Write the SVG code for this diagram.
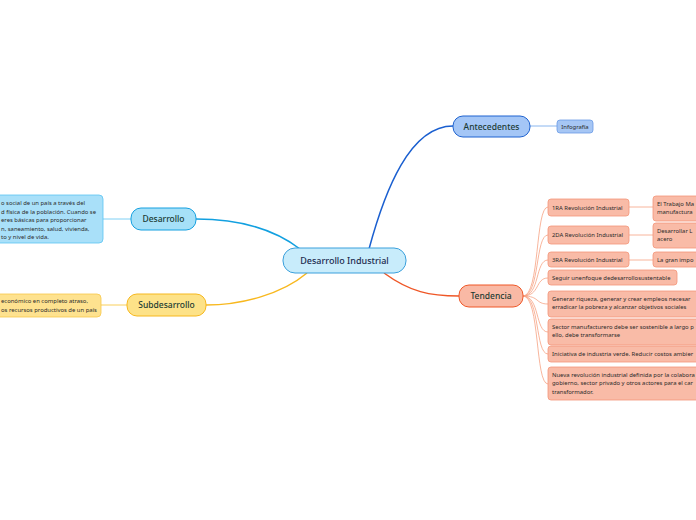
<svg xmlns="http://www.w3.org/2000/svg" width="696" height="520" viewBox="0 0 696 520">
<style>
text{font-family:"Noto Sans","Open Sans",sans-serif;}
.main{font-size:8.5px;font-weight:500;fill:#1b3a32;text-anchor:middle;}
.small{font-size:5.9px;fill:#2a2a2a;}
.tc{fill:#f9bba7;stroke:#f4967a;stroke-width:0.8;}
.tl{fill:none;stroke:#f6a283;stroke-width:0.8;}
</style>
<rect width="696" height="520" fill="#ffffff"/>
<g id="connectors" fill="none">
  <path d="M369,249 C385,190 410,126 453,126" stroke="#1a5fd0" stroke-width="1.5"/>
  <path d="M530,126 L557,126" stroke="#8ab6ee" stroke-width="1"/>
  <path d="M384,273 C410,292 430,296 459,296" stroke="#ef5727" stroke-width="1.5"/>
  <path d="M300,249 C270,226 232,219 196,219" stroke="#12a0e0" stroke-width="1.5"/>
  <path d="M103,219 L131,219" stroke="#7fd0f5" stroke-width="1"/>
  <path d="M307,273 C282,294 242,305 206,305" stroke="#f8b81e" stroke-width="1.5"/>
  <path d="M101,305 L127,305" stroke="#f9cf5a" stroke-width="1"/>
  <g class="tl">
    <path d="M523,296 C540,296 535,207 548,207"/>
    <path d="M523,296 C540,296 535,235 548,235"/>
    <path d="M523,296 C540,296 535,260 548,260"/>
    <path d="M523,296 C540,296 535,278 548,278"/>
    <path d="M523,296 C540,296 535,304 548,304"/>
    <path d="M523,296 C540,296 535,332 548,332"/>
    <path d="M523,296 C540,296 535,354 548,354"/>
    <path d="M523,296 C540,296 535,384 548,384"/>
    <path d="M629,207 L653,207"/>
    <path d="M629,235 L653,235"/>
    <path d="M629,260 L653,260"/>
  </g>
</g>
<g id="central">
  <rect x="283" y="248" width="123" height="25" rx="12" fill="#c8ecfb" stroke="#3aa0dc" stroke-width="1"/>
  <text class="main" x="344.5" y="264" style="fill:#1c2b4f;font-size:9px">Desarrollo Industrial</text>
</g>
<g id="antecedentes">
  <rect x="453" y="116" width="77" height="21" rx="10" fill="#a4c6f6" stroke="#1f63d0" stroke-width="1"/>
  <text class="main" x="491.5" y="129.5">Antecedentes</text>
</g>
<g id="infografia">
  <rect x="557" y="120" width="36" height="13" rx="3" fill="#a6c6f4" stroke="#6a9ae6" stroke-width="0.8"/>
  <text class="small" x="575" y="128.5" text-anchor="middle">Infografía</text>
</g>
<g id="desarrollo">
  <rect x="131" y="208" width="65" height="22" rx="10" fill="#a6e0f8" stroke="#14a0e0" stroke-width="1"/>
  <text class="main" x="163.5" y="222">Desarrollo</text>
</g>
<g id="desarrollo-text">
  <rect x="-10" y="195" width="113" height="48" rx="4" fill="#a9e0f9" stroke="#5cc4f2" stroke-width="0.8"/>
  <text class="small" x="1" y="205">o social de un país a través del</text>
  <text class="small" x="1" y="213.5">d física de la población. Cuando se</text>
  <text class="small" x="1" y="222">eres básicas para proporcionar</text>
  <text class="small" x="1" y="230.5">n, saneamiento, salud, vivienda,</text>
  <text class="small" x="1" y="239">to y nivel de vida.</text>
</g>
<g id="subdesarrollo">
  <rect x="127" y="294" width="79" height="22" rx="10" fill="#fde288" stroke="#f6b81e" stroke-width="1"/>
  <text class="main" x="166.5" y="308">Subdesarrollo</text>
</g>
<g id="subdesarrollo-text">
  <rect x="-10" y="294" width="111" height="23" rx="4" fill="#fee28f" stroke="#f7c84a" stroke-width="0.8"/>
  <text class="small" x="1" y="303">económico en completo atraso,</text>
  <text class="small" x="1" y="312">os recursos productivos de un país</text>
</g>
<g id="tendencia">
  <rect x="459" y="285" width="64" height="22" rx="10" fill="#f9b9a5" stroke="#ef5727" stroke-width="1"/>
  <text class="main" x="491" y="299">Tendencia</text>
</g>
<g id="t1">
  <rect class="tc" x="548" y="199" width="81" height="17" rx="3"/>
  <text class="small" x="552" y="209.5">1RA Revolución Industrial</text>
</g>
<g id="t1a">
  <rect class="tc" x="653" y="196" width="50" height="25" rx="3"/>
  <text class="small" x="657" y="205.5">El Trabajo Ma</text>
  <text class="small" x="657" y="214">manufactura</text>
</g>
<g id="t2">
  <rect class="tc" x="548" y="226" width="81" height="18" rx="3"/>
  <text class="small" x="552" y="237">2DA Revolución Industrial</text>
</g>
<g id="t2a">
  <rect class="tc" x="653" y="223" width="50" height="25" rx="3"/>
  <text class="small" x="657" y="232.5">Desarrollar L</text>
  <text class="small" x="657" y="241">acero</text>
</g>
<g id="t3">
  <rect class="tc" x="548" y="252" width="81" height="15" rx="3"/>
  <text class="small" x="552" y="261.5">3RA Revolución Industrial</text>
</g>
<g id="t3a">
  <rect class="tc" x="653" y="252" width="50" height="15" rx="3"/>
  <text class="small" x="657" y="261.5">La gran impo</text>
</g>
<g id="t4">
  <rect class="tc" x="548" y="270" width="129" height="15" rx="3"/>
  <text class="small" x="552" y="279.5">Seguir unenfoque dedesarrollosustentable</text>
</g>
<g id="t5">
  <rect class="tc" x="548" y="291" width="155" height="26" rx="3"/>
  <text class="small" x="552" y="300.5">Generar riqueza, generar y crear empleos necesar</text>
  <text class="small" x="552" y="309">erradicar la pobreza y alcanzar objetivos sociales</text>
</g>
<g id="t6">
  <rect class="tc" x="548" y="319" width="155" height="26" rx="3"/>
  <text class="small" x="552" y="328.5">Sector manufacturero debe ser sostenible a largo p</text>
  <text class="small" x="552" y="337">ello, debe transformarse</text>
</g>
<g id="t7">
  <rect class="tc" x="548" y="346" width="155" height="16" rx="3"/>
  <text class="small" x="552" y="356">Iniciativa de industria verde. Reducir costos ambier</text>
</g>
<g id="t8">
  <rect class="tc" x="548" y="367" width="155" height="33" rx="3"/>
  <text class="small" x="552" y="376.5">Nueva revolución industrial definida por la colabora</text>
  <text class="small" x="552" y="385">gobierno, sector privado y otros actores para el car</text>
  <text class="small" x="552" y="393.5">transformador.</text>
</g>
</svg>
